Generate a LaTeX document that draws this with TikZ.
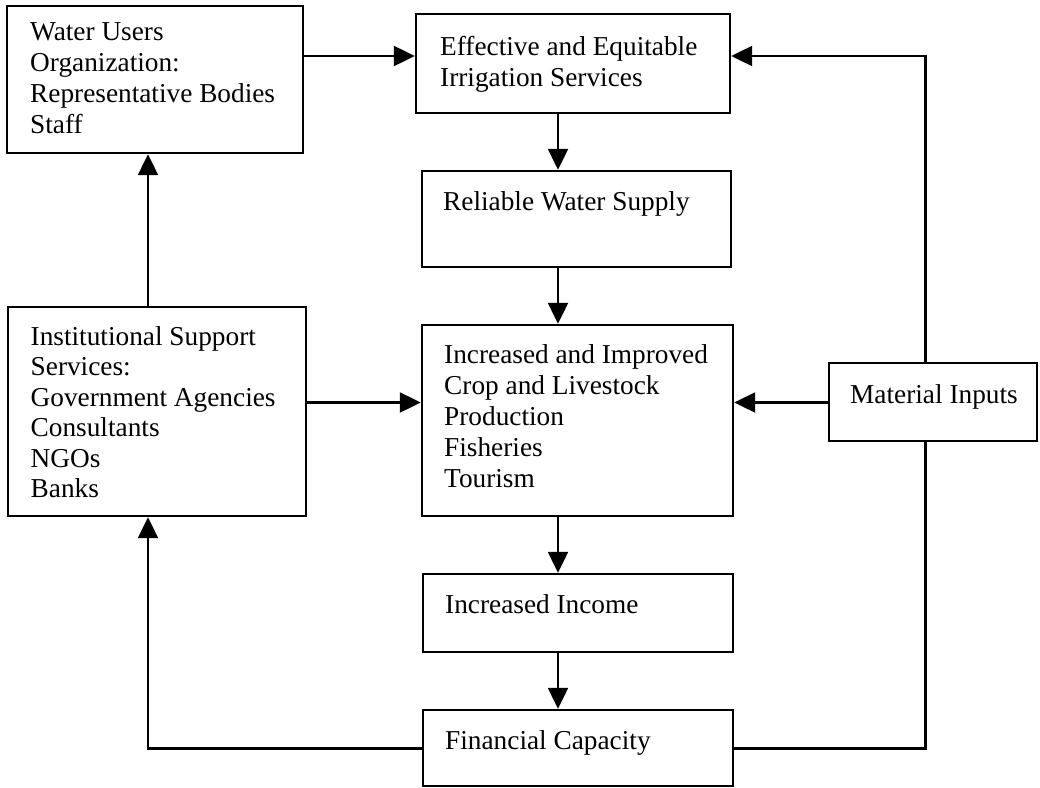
\documentclass[tikz,border=0pt]{standalone}
\usepackage{fontspec}
\setmainfont{Liberation Serif}
\usetikzlibrary{arrows.meta}

% left-aligned block of lines, anchored at the baseline of its first line
\newcommand\lines[1]{\begin{tabular}[t]{@{}l@{}}#1\end{tabular}}

\begin{document}
\begin{tikzpicture}[x=1pt,y=-1pt,
  box/.style={draw, line width=2.4pt, rectangle, inner sep=0pt, line join=miter},
  txt/.style={anchor=base west, inner sep=0pt, font=\fontsize{27.3}{31}\selectfont},
  link/.style={line width=2.2pt, line join=miter},
  arr/.style={link, -{Triangle[length=21pt,width=20pt]}}]
\useasboundingbox (0,0) rectangle (1040,787);

% boxes
\node[box, minimum width=296pt, minimum height=147pt] (wuo)  at (155,79.5)  {};
\node[box, minimum width=314pt, minimum height=99pt]  (eei)  at (573,63.5)  {};
\node[box, minimum width=309pt, minimum height=96pt]  (rws)  at (576.5,219) {};
\node[box, minimum width=298pt, minimum height=209pt] (inst) at (157,411.5) {};
\node[box, minimum width=311pt, minimum height=191pt] (prod) at (577.5,420.5) {};
\node[box, minimum width=208pt, minimum height=78pt]  (mat)  at (933,402)   {};
\node[box, minimum width=310pt, minimum height=78pt]  (inc)  at (578,613)   {};
\node[box, minimum width=310pt, minimum height=76pt]  (fin)  at (578,748)   {};

% box texts
\node[txt] (wuo-t)  at (30,40.7)  {\lines{Water Users\\Organization:\\Representative Bodies\\Staff}};
\node[txt] (eei-t)  at (440,55)   {\lines{Effective and Equitable\\Irrigation Services}};
\node[txt] (rws-t)  at (443,210.5){Reliable Water Supply};
\node[txt, font=\fontsize{27.3}{30.5}\selectfont] (inst-t) at (30.5,345)
  {\lines{Institutional Support\\Services:\\Government Agencies\\Consultants\\NGOs\\Banks}};
\node[txt] (prod-t) at (444,363)  {\lines{Increased and Improved\\Crop and Livestock\\Production\\Fisheries\\Tourism}};
\node[txt] (mat-t)  at (850,403)  {Material Inputs};
\node[txt] (inc-t)  at (445,613)  {Increased Income};
\node[txt] (fin-t)  at (445,749)  {Financial Capacity};

% routing guides
\coordinate (row1) at (0,56);
\coordinate (row2) at (0,402.5);
\coordinate (row3) at (0,748.5);
\coordinate (colL) at (148,0);
\coordinate (colM) at (558,0);
\coordinate (colR) at (925.5,0);

% connectors
\draw[arr] (wuo.east |- row1) -- (eei.west |- row1);
\draw[arr] (eei.south -| colM) -- (rws.north -| colM);
\draw[arr] (rws.south -| colM) -- (prod.north -| colM);
\draw[arr] (prod.south -| colM) -- (inc.north -| colM);
\draw[arr] (inc.south -| colM) -- (fin.north -| colM);
\draw[arr] (inst.east |- row2) -- (prod.west |- row2);
\draw[arr] (mat.west |- row2) -- (prod.east |- row2);
\draw[arr] (inst.north -| colL) -- (wuo.south -| colL);
\draw[arr] (mat.north -| colR) -- (colR |- row1) -- (eei.east |- row1);
\draw[arr] (fin.west |- row3) -- (colL |- row3) -- (inst.south -| colL);
\draw[link] (fin.east |- row3) -- (colR |- row3) -- (mat.south -| colR);
\end{tikzpicture}
\end{document}
